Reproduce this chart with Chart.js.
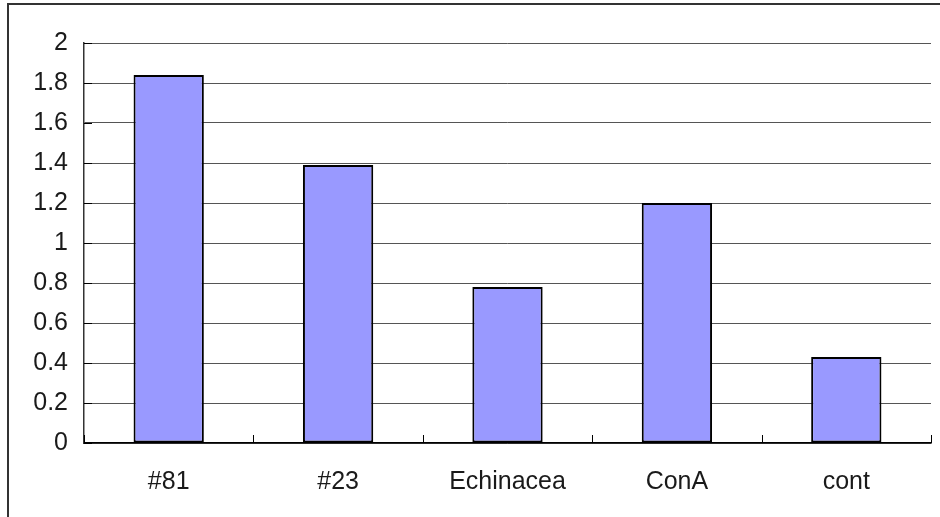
<!DOCTYPE html>
<html>
<head>
<meta charset="utf-8">
<script src="https://cdn.jsdelivr.net/npm/chart.js@4.4.1/dist/chart.umd.min.js"></script>
<style>
  html, body { margin: 0; padding: 0; background: #fff; }
  canvas { display: block; }
</style>
</head>
<body>
<canvas id="barChart" width="940" height="517"></canvas>
<script>
const categories = ["#81", "#23", "Echinacea", "ConA", "cont"];
const values = [1.84, 1.39, 0.78, 1.2, 0.43];
const yTicks = [0, 0.2, 0.4, 0.6, 0.8, 1, 1.2, 1.4, 1.6, 1.8, 2];

// frame on the top/left edge and short inward tick marks on both axes
const framePlugin = {
    id: "frame",
    beforeDraw(chart) {
        const ctx = chart.ctx;
        ctx.save();
        ctx.strokeStyle = "#333";
        ctx.lineWidth = 2;
        ctx.beginPath();
        ctx.moveTo(8, chart.height);
        ctx.lineTo(8, 4);
        ctx.lineTo(chart.width, 4);
        ctx.stroke();
        ctx.restore();
    },
    afterDraw(chart) {
        const ctx = chart.ctx;
        const x = chart.scales.x;
        const y = chart.scales.y;
        ctx.save();
        ctx.strokeStyle = "#000";
        ctx.lineWidth = 1;
        ctx.beginPath();
        const step = (x.right - x.left) / categories.length;
        for (let i = 0; i <= categories.length; i++) {
            const px = Math.round(x.left + i * step) + 0.5;
            ctx.moveTo(px, y.bottom);
            ctx.lineTo(px, y.bottom - 8);
        }
        yTicks.forEach(v => {
            const py = Math.round(y.getPixelForValue(v)) + 0.5;
            ctx.moveTo(x.left, py);
            ctx.lineTo(x.left + 8, py);
        });
        ctx.stroke();
        ctx.restore();
    }
};

new Chart(document.getElementById("barChart").getContext("2d"), {
    type: "bar",
    data: {
        labels: categories,
        datasets: [{
            data: values,
            backgroundColor: "#9999ff",
            borderColor: "#000",
            borderWidth: 2,
            borderSkipped: false,
            barPercentage: 0.415,
            categoryPercentage: 1
        }]
    },
    options: {
        responsive: false,
        animation: false,
        layout: { padding: { left: 0, top: 43, right: 9, bottom: 0 } },
        plugins: {
            legend: { display: false },
            tooltip: { enabled: false }
        },
        scales: {
            x: {
                grid: { drawOnChartArea: false, drawTicks: false },
                border: { color: "#000", width: 1.5 },
                ticks: {
                    color: "#1a1a1a",
                    padding: 24,
                    font: { family: "Liberation Sans", size: 25 }
                },
                afterFit(scale) { scale.height = 74; }
            },
            y: {
                min: 0,
                max: 2,
                grid: { color: "#555", lineWidth: 1, drawTicks: false },
                border: { color: "#333", width: 1.5 },
                afterBuildTicks(scale) {
                    scale.ticks = yTicks.map(v => ({ value: v }));
                },
                ticks: {
                    color: "#1a1a1a",
                    padding: 16,
                    font: { family: "Liberation Sans", size: 25 },
                    callback: v => String(v)
                },
                afterFit(scale) { scale.width = 84; }
            }
        }
    },
    plugins: [framePlugin]
});
</script>
</body>
</html>
